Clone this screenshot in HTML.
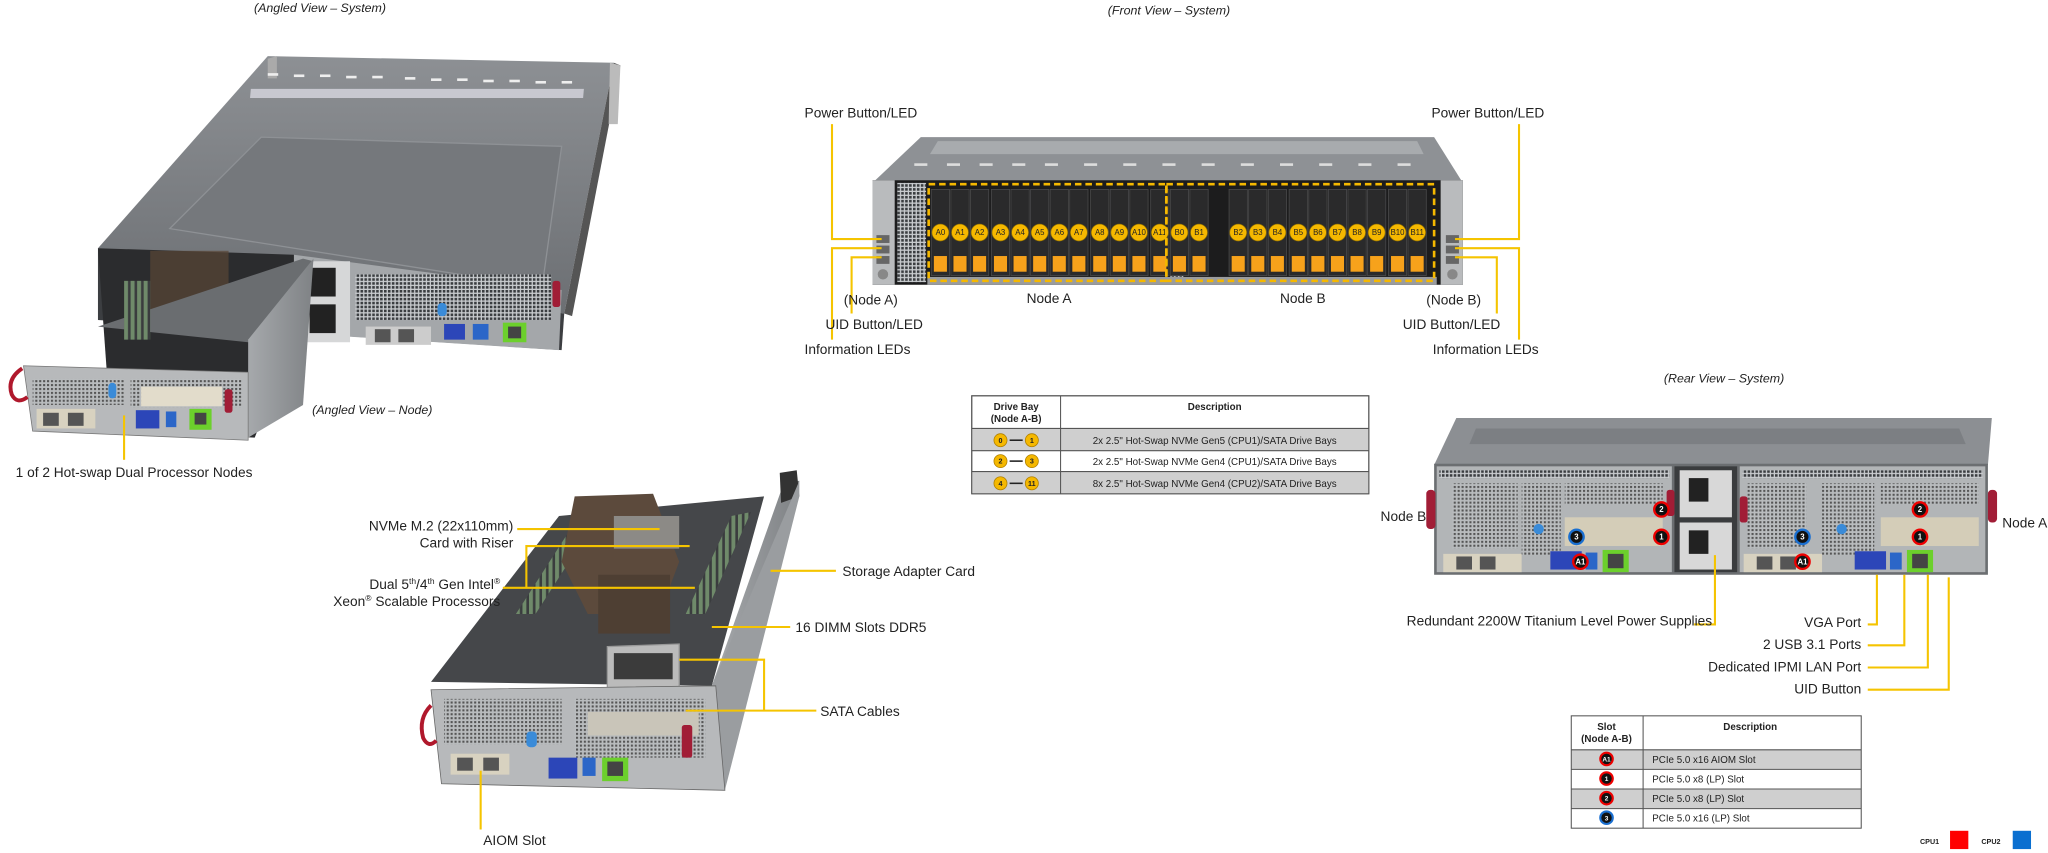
<!DOCTYPE html>
<html><head><meta charset="utf-8"><style>
html,body{margin:0;padding:0;background:#fff;}
svg{display:block;}
text{font-family:"Liberation Sans",Arial,sans-serif;fill:#222;}
.t{font-size:10.5px;}
.i{font-size:9.5px;font-style:italic;}
.y{stroke:#f5c400;stroke-width:1.6;fill:none;}
.tb{font-size:7.5px;}
.tbb{font-size:7.5px;font-weight:bold;}
</style></head><body>
<svg width="2048" height="853" viewBox="0 0 1568 653" preserveAspectRatio="none" xmlns="http://www.w3.org/2000/svg">
<defs>
<pattern id="grill" width="3" height="3" patternUnits="userSpaceOnUse"><rect width="3" height="3" fill="#c9cccf"/><rect width="2" height="2" fill="#3a3d40"/></pattern>
<pattern id="grillL" width="3" height="3" patternUnits="userSpaceOnUse"><rect width="3" height="3" fill="#b9bcbe"/><rect width="1.6" height="1.6" fill="#555"/></pattern>
<pattern id="dimm" width="5" height="4" patternUnits="userSpaceOnUse"><rect width="5" height="4" fill="#3a3c3e"/><rect width="3" height="4" fill="#6f8a6a"/></pattern>
<linearGradient id="top" x1="0" y1="0" x2="0" y2="1"><stop offset="0" stop-color="#8d9094"/><stop offset="1" stop-color="#6c6f73"/></linearGradient>
<linearGradient id="side" x1="0" y1="0" x2="1" y2="0"><stop offset="0" stop-color="#a6a9ac"/><stop offset="1" stop-color="#7f8285"/></linearGradient>
</defs>
<rect width="1568" height="653" fill="#fff"/>

<!-- ============ ANGLED VIEW SYSTEM ============ -->
<text class="i" x="245" y="9" text-anchor="middle">(Angled View – System)</text>
<polygon points="205,43 470,48 432,240 75,190" fill="url(#top)"/>
<polygon points="470,48 475,50 438,242 432,240" fill="#555"/>
<polygon points="205,45 212,43 212,60 205,60" fill="#aaa"/>
<polygon points="467,48 475,50 473,95 466,95" fill="#bbb"/>
<polygon points="200,105 430,112 415,220 130,175" fill="#75787c" stroke="#8e9195" stroke-width="1"/>
<rect x="198" y="68" width="255" height="7" fill="#c8c8d0" transform="skewX(-5)"/>
<g fill="#eee"><rect x="205" y="56" width="8" height="2"/><rect x="225" y="57" width="8" height="2"/><rect x="245" y="57" width="8" height="2"/><rect x="265" y="58" width="8" height="2"/><rect x="285" y="58" width="8" height="2"/><rect x="310" y="59" width="8" height="2"/><rect x="330" y="60" width="8" height="2"/><rect x="350" y="60" width="8" height="2"/><rect x="370" y="61" width="8" height="2"/><rect x="390" y="61" width="8" height="2"/><rect x="410" y="62" width="8" height="2"/><rect x="430" y="62" width="8" height="2"/></g>
<polygon points="75,190 432,240 430,268 75,245" fill="#3c3e41"/>
<polygon points="225,195 430,222 428,268 225,255" fill="#a4a7aa"/>
<rect x="230" y="200" width="38" height="62" fill="#d6d7d8"/>
<rect x="237" y="205" width="20" height="22" fill="#222"/><rect x="237" y="233" width="20" height="22" fill="#222"/>
<rect x="272" y="210" width="150" height="35" fill="url(#grill)"/>
<rect x="280" y="250" width="50" height="14" fill="#ccc"/><rect x="287" y="252" width="12" height="10" fill="#555"/><rect x="305" y="252" width="12" height="10" fill="#555"/>
<rect x="340" y="248" width="16" height="12" fill="#2c46b8"/><rect x="362" y="248" width="12" height="12" fill="#2b66c8"/>
<rect x="385" y="247" width="18" height="15" fill="#6cd02c"/><rect x="389" y="250" width="10" height="9" fill="#444"/>
<rect x="423" y="215" width="6" height="20" rx="2" fill="#a11d36"/>
<rect x="335" y="232" width="7" height="10" rx="3" fill="#3a8bd8"/>
<polygon points="75,190 225,195 225,260 195,335 85,330" fill="#2b2c2e"/>
<rect x="115" y="192" width="60" height="50" fill="#5a4636" opacity=".7"/>
<polygon points="75,250 190,262 240,200 232,198" fill="#6a6d70"/>
<rect x="95" y="215" width="20" height="45" fill="url(#dimm)"/>
<polygon points="190,260 240,198 232,310 190,335" fill="url(#side)"/>
<polygon points="18,280 190,285 190,337 25,330" fill="#b7b9bb" stroke="#777" stroke-width=".6"/>
<rect x="25" y="290" width="70" height="20" fill="url(#grillL)"/>
<rect x="100" y="290" width="85" height="22" fill="url(#grillL)"/>
<rect x="108" y="296" width="62" height="15" fill="#e2dccb"/>
<rect x="28" y="313" width="45" height="15" fill="#d8d2c0"/>
<rect x="33" y="316" width="12" height="10" fill="#555"/><rect x="52" y="316" width="12" height="10" fill="#555"/>
<rect x="104" y="314" width="18" height="14" fill="#2c46b8"/><rect x="127" y="315" width="8" height="12" fill="#2b66c8"/>
<rect x="145" y="313" width="17" height="16" fill="#6cd02c"/><rect x="149" y="316" width="9" height="9" fill="#444"/>
<rect x="83" y="293" width="6" height="12" rx="3" fill="#3a8bd8"/>
<path d="M17,282 q-12,8 -8,20 q4,8 12,2" stroke="#b0182c" stroke-width="3" fill="none"/>
<rect x="172" y="298" width="6" height="18" rx="2" fill="#a11d36"/>
<text class="i" x="285" y="317" text-anchor="middle">(Angled View – Node)</text>
<line class="y" x1="95" y1="318" x2="95" y2="352"/>
<text class="t" x="12" y="365">1 of 2 Hot-swap  Dual Processor Nodes</text>

<!-- ============ ANGLED VIEW NODE ============ -->
<polygon points="330,522 428,395 585,380 545,525" fill="#45474a"/>
<polygon points="395,470 440,400 455,400 410,470" fill="url(#dimm)"/>
<polygon points="525,470 560,395 575,392 540,470" fill="url(#dimm)"/>
<polygon points="440,380 500,378 520,430 505,470 450,470 430,430" fill="#5c4a3c"/>
<rect x="470" y="395" width="50" height="25" fill="#8c8a86"/>
<rect x="458" y="440" width="55" height="45" fill="#4e3f33"/>
<polygon points="545,525 600,370 612,368 555,600" fill="url(#side)"/>
<polygon points="597,362 610,360 612,380 598,385" fill="#333"/>
<polygon points="545,525 612,368 612,380 555,605" fill="#9a9da0"/>
<polygon points="465,495 520,493 520,530 465,532" fill="#bbb" stroke="#999"/>
<rect x="470" y="500" width="45" height="20" fill="#3b3b3b"/>
<polygon points="330,528 548,525 555,605 338,600" fill="#b7b9bb" stroke="#666" stroke-width=".6"/>
<rect x="340" y="535" width="90" height="35" fill="url(#grillL)"/>
<rect x="440" y="535" width="100" height="45" fill="url(#grillL)"/>
<rect x="450" y="545" width="85" height="18" fill="#c9c5b9"/>
<rect x="345" y="577" width="45" height="16" fill="#d8d2c0"/>
<rect x="350" y="580" width="12" height="10" fill="#555"/><rect x="370" y="580" width="12" height="10" fill="#555"/>
<rect x="420" y="580" width="22" height="16" fill="#2c46b8"/><rect x="446" y="580" width="10" height="14" fill="#2b66c8"/>
<rect x="461" y="580" width="20" height="18" fill="#6cd02c"/><rect x="465" y="583" width="12" height="11" fill="#444"/>
<rect x="403" y="560" width="8" height="12" rx="3" fill="#3a8bd8"/>
<path d="M330,540 q-10,10 -6,25 q4,8 10,2" stroke="#b0182c" stroke-width="3" fill="none"/>
<rect x="522" y="555" width="8" height="25" rx="2" fill="#a11d36"/>
<text class="t" x="393" y="406" text-anchor="end">NVMe M.2 (22x110mm)</text>
<text class="t" x="393" y="419" text-anchor="end">Card with Riser</text>
<line class="y" x1="396" y1="405" x2="505" y2="405"/>
<text class="t" x="383" y="451" text-anchor="end">Dual 5<tspan font-size="6.5" dy="-4">th</tspan><tspan dy="4">/4</tspan><tspan font-size="6.5" dy="-4">th</tspan><tspan dy="4"> Gen Intel</tspan><tspan font-size="6.5" dy="-4">®</tspan></text>
<text class="t" x="383" y="464" text-anchor="end">Xeon<tspan font-size="6.5" dy="-4">®</tspan><tspan dy="4"> Scalable Processors</tspan></text>
<polyline class="y" points="528,418 403,418 403,450"/>
<line class="y" x1="385" y1="450" x2="532" y2="450"/>
<line class="y" x1="590" y1="437" x2="640" y2="437"/>
<text class="t" x="645" y="441">Storage Adapter Card</text>
<line class="y" x1="545" y1="480" x2="605" y2="480"/>
<text class="t" x="609" y="484">16 DIMM Slots DDR5</text>
<polyline class="y" points="520,505 585,505 585,544"/>
<line class="y" x1="525" y1="544" x2="625" y2="544"/>
<text class="t" x="628" y="548">SATA Cables</text>
<line class="y" x1="368" y1="590" x2="368" y2="635"/>
<text class="t" x="370" y="647">AIOM Slot</text>

<!-- ============ FRONT VIEW ============ -->
<text class="i" x="895" y="11" text-anchor="middle">(Front View – System)</text>
<polygon points="705,105 1098,105 1120,140 668,140" fill="#8e9195"/>
<polygon points="718,108 1085,108 1090,118 712,118" fill="#a8abae"/>
<g fill="#ddd"><rect x="700" y="125" width="10" height="2"/><rect x="725" y="125" width="10" height="2"/><rect x="750" y="125" width="10" height="2"/><rect x="775" y="125" width="10" height="2"/><rect x="800" y="125" width="10" height="2"/><rect x="830" y="125" width="10" height="2"/><rect x="860" y="125" width="10" height="2"/><rect x="890" y="125" width="10" height="2"/><rect x="920" y="125" width="10" height="2"/><rect x="950" y="125" width="10" height="2"/><rect x="980" y="125" width="10" height="2"/><rect x="1010" y="125" width="10" height="2"/><rect x="1040" y="125" width="10" height="2"/><rect x="1070" y="125" width="10" height="2"/></g>
<rect x="668" y="138" width="452" height="80" fill="#1c1c1d"/>
<rect x="668" y="138" width="17" height="80" fill="#b9bbbd"/>
<rect x="1103" y="138" width="17" height="80" fill="#b9bbbd"/>
<rect x="687" y="140" width="22" height="76" fill="url(#grill)"/>
<rect x="896" y="150" width="10" height="65" fill="url(#grill)"/>
<rect x="710" y="212" width="390" height="6" fill="#9a9c9e"/>
<g fill="#2a2a2b" stroke="#4a4a4b" stroke-width=".6">
<rect x="713" y="145" width="14" height="66"/><rect x="728" y="145" width="14" height="66"/><rect x="743" y="145" width="14" height="66"/><rect x="759" y="145" width="14" height="66"/><rect x="774" y="145" width="14" height="66"/><rect x="789" y="145" width="14" height="66"/><rect x="804" y="145" width="14" height="66"/><rect x="819" y="145" width="14" height="66"/><rect x="835" y="145" width="14" height="66"/><rect x="850" y="145" width="14" height="66"/><rect x="865" y="145" width="14" height="66"/><rect x="881" y="145" width="14" height="66"/>
<rect x="896" y="145" width="14" height="66"/><rect x="911" y="145" width="14" height="66"/>
<rect x="941" y="145" width="14" height="66"/><rect x="956" y="145" width="14" height="66"/><rect x="971" y="145" width="14" height="66"/><rect x="987" y="145" width="14" height="66"/><rect x="1002" y="145" width="14" height="66"/><rect x="1017" y="145" width="14" height="66"/><rect x="1032" y="145" width="14" height="66"/><rect x="1047" y="145" width="14" height="66"/><rect x="1063" y="145" width="14" height="66"/><rect x="1078" y="145" width="14" height="66"/>
</g>
<g fill="#f7a21b">
<rect x="715" y="196" width="10" height="12"/><rect x="730" y="196" width="10" height="12"/><rect x="745" y="196" width="10" height="12"/><rect x="761" y="196" width="10" height="12"/><rect x="776" y="196" width="10" height="12"/><rect x="791" y="196" width="10" height="12"/><rect x="806" y="196" width="10" height="12"/><rect x="821" y="196" width="10" height="12"/><rect x="837" y="196" width="10" height="12"/><rect x="852" y="196" width="10" height="12"/><rect x="867" y="196" width="10" height="12"/><rect x="883" y="196" width="10" height="12"/>
<rect x="898" y="196" width="10" height="12"/><rect x="913" y="196" width="10" height="12"/>
<rect x="943" y="196" width="10" height="12"/><rect x="958" y="196" width="10" height="12"/><rect x="973" y="196" width="10" height="12"/><rect x="989" y="196" width="10" height="12"/><rect x="1004" y="196" width="10" height="12"/><rect x="1019" y="196" width="10" height="12"/><rect x="1034" y="196" width="10" height="12"/><rect x="1049" y="196" width="10" height="12"/><rect x="1065" y="196" width="10" height="12"/><rect x="1080" y="196" width="10" height="12"/>
</g>
<g fill="#f5b800" stroke="#8a6a00" stroke-width=".5">
<circle cx="720" cy="178" r="6.5"/><circle cx="735" cy="178" r="6.5"/><circle cx="750" cy="178" r="6.5"/><circle cx="766" cy="178" r="6.5"/><circle cx="781" cy="178" r="6.5"/><circle cx="796" cy="178" r="6.5"/><circle cx="811" cy="178" r="6.5"/><circle cx="826" cy="178" r="6.5"/><circle cx="842" cy="178" r="6.5"/><circle cx="857" cy="178" r="6.5"/><circle cx="872" cy="178" r="6.5"/><circle cx="888" cy="178" r="6.5"/>
<circle cx="903" cy="178" r="6.5"/><circle cx="918" cy="178" r="6.5"/>
<circle cx="948" cy="178" r="6.5"/><circle cx="963" cy="178" r="6.5"/><circle cx="978" cy="178" r="6.5"/><circle cx="994" cy="178" r="6.5"/><circle cx="1009" cy="178" r="6.5"/><circle cx="1024" cy="178" r="6.5"/><circle cx="1039" cy="178" r="6.5"/><circle cx="1054" cy="178" r="6.5"/><circle cx="1070" cy="178" r="6.5"/><circle cx="1085" cy="178" r="6.5"/>
</g>
<g font-size="6" text-anchor="middle" font-family="Liberation Sans" fill="#222">
<text x="720" y="180">A0</text><text x="735" y="180">A1</text><text x="750" y="180">A2</text><text x="766" y="180">A3</text><text x="781" y="180">A4</text><text x="796" y="180">A5</text><text x="811" y="180">A6</text><text x="826" y="180">A7</text><text x="842" y="180">A8</text><text x="857" y="180">A9</text><text x="872" y="180">A10</text><text x="888" y="180">A11</text>
<text x="903" y="180">B0</text><text x="918" y="180">B1</text>
<text x="948" y="180">B2</text><text x="963" y="180">B3</text><text x="978" y="180">B4</text><text x="994" y="180">B5</text><text x="1009" y="180">B6</text><text x="1024" y="180">B7</text><text x="1039" y="180">B8</text><text x="1054" y="180">B9</text><text x="1070" y="180">B10</text><text x="1085" y="180">B11</text>
</g>
<g fill="none" stroke="#f5b800" stroke-width="2" stroke-dasharray="5,3">
<rect x="711" y="141" width="182" height="74"/>
<rect x="893" y="141" width="205" height="74"/>
</g>
<g fill="#666"><rect x="671" y="180" width="10" height="6"/><rect x="671" y="188" width="10" height="6"/><rect x="671" y="196" width="10" height="6"/><rect x="1107" y="180" width="10" height="6"/><rect x="1107" y="188" width="10" height="6"/><rect x="1107" y="196" width="10" height="6"/></g>
<circle cx="676" cy="210" r="4" fill="#888"/><circle cx="1112" cy="210" r="4" fill="#888"/>
<text class="t" x="616" y="90">Power Button/LED</text>
<text class="t" x="1096" y="90">Power Button/LED</text>
<polyline class="y" points="637,95 637,183 675,183"/>
<polyline class="y" points="637,260 637,190 675,190"/>
<polyline class="y" points="652,240 652,197 675,197"/>
<polyline class="y" points="1163,95 1163,183 1114,183"/>
<polyline class="y" points="1163,260 1163,190 1114,190"/>
<polyline class="y" points="1146,240 1146,197 1114,197"/>
<text class="t" x="646" y="233">(Node A)</text>
<text class="t" x="786" y="232">Node A</text>
<text class="t" x="980" y="232">Node B</text>
<text class="t" x="1092" y="233">(Node B)</text>
<text class="t" x="632" y="252">UID Button/LED</text>
<text class="t" x="1074" y="252">UID Button/LED</text>
<text class="t" x="616" y="271">Information  LEDs</text>
<text class="t" x="1097" y="271">Information  LEDs</text>

<rect x="744" y="303" width="304" height="75" fill="#fff" stroke="#555" stroke-width=".8"/>
<rect x="744" y="328" width="304" height="17" fill="#cfcfcf"/>
<rect x="744" y="361" width="304" height="17" fill="#cfcfcf"/>
<g stroke="#555" stroke-width=".8"><line x1="744" y1="328" x2="1048" y2="328"/><line x1="744" y1="345" x2="1048" y2="345"/><line x1="744" y1="361" x2="1048" y2="361"/><line x1="812" y1="303" x2="812" y2="378"/><rect x="744" y="303" width="304" height="75" fill="none"/></g>
<text class="tbb" x="778" y="314" text-anchor="middle">Drive Bay</text>
<text class="tbb" x="778" y="323" text-anchor="middle">(Node A-B)</text>
<text class="tbb" x="930" y="314" text-anchor="middle">Description</text>
<g fill="#f5b800" stroke="#b08000" stroke-width=".6"><circle cx="766" cy="337" r="5"/><circle cx="790" cy="337" r="5"/><circle cx="766" cy="353" r="5"/><circle cx="790" cy="353" r="5"/><circle cx="766" cy="370" r="5"/><circle cx="790" cy="370" r="5"/></g>
<g stroke="#222" stroke-width="1.2"><line x1="773" y1="337" x2="783" y2="337"/><line x1="773" y1="353" x2="783" y2="353"/><line x1="773" y1="370" x2="783" y2="370"/></g>
<g font-size="5.5" text-anchor="middle" font-family="Liberation Sans" font-weight="bold"><text x="766" y="339">0</text><text x="790" y="339">1</text><text x="766" y="355">2</text><text x="790" y="355">3</text><text x="766" y="372">4</text><text x="790" y="372">11</text></g>
<text class="tb" x="930" y="340" text-anchor="middle">2x 2.5" Hot-Swap  NVMe  Gen5  (CPU1)/SATA  Drive  Bays</text>
<text class="tb" x="930" y="356" text-anchor="middle">2x 2.5" Hot-Swap  NVMe  Gen4  (CPU1)/SATA  Drive  Bays</text>
<text class="tb" x="930" y="373" text-anchor="middle">8x 2.5" Hot-Swap  NVMe  Gen4  (CPU2)/SATA  Drive  Bays</text>

<!-- ============ REAR VIEW ============ -->
<text class="i" x="1320" y="293" text-anchor="middle">(Rear View – System)</text>
<polygon points="1115,320 1525,320 1522,356 1098,356" fill="#8c8f93"/>
<polygon points="1130,328 1500,328 1505,340 1125,340" fill="#7c7f83"/>
<rect x="1098" y="355" width="424" height="85" fill="#6b6e71"/>
<rect x="1100" y="357" width="180" height="81" fill="#b2b5b7"/>
<rect x="1332" y="357" width="188" height="81" fill="#b2b5b7"/>
<rect x="1282" y="357" width="48" height="81" fill="#3a3c3e"/>
<rect x="1286" y="360" width="40" height="36" fill="#d8d8d8"/><rect x="1286" y="400" width="40" height="36" fill="#d8d8d8"/>
<rect x="1293" y="366" width="15" height="18" fill="#222"/><rect x="1293" y="406" width="15" height="18" fill="#222"/>
<rect x="1102" y="360" width="176" height="6" fill="url(#grill)"/>
<rect x="1334" y="360" width="184" height="6" fill="url(#grill)"/>
<rect x="1112" y="370" width="50" height="50" fill="url(#grillL)"/>
<rect x="1165" y="370" width="30" height="55" fill="url(#grillL)"/>
<rect x="1198" y="370" width="75" height="16" fill="url(#grillL)"/>
<rect x="1198" y="396" width="75" height="22" fill="#d4cdb8"/>
<rect x="1338" y="370" width="45" height="50" fill="url(#grillL)"/>
<rect x="1395" y="370" width="40" height="55" fill="url(#grillL)"/>
<rect x="1440" y="370" width="75" height="16" fill="url(#grillL)"/>
<rect x="1440" y="396" width="75" height="22" fill="#d4cdb8"/>
<rect x="1105" y="424" width="60" height="14" fill="#d8d2c0"/><rect x="1115" y="426" width="12" height="10" fill="#555"/><rect x="1133" y="426" width="12" height="10" fill="#555"/>
<rect x="1335" y="424" width="60" height="14" fill="#d8d2c0"/><rect x="1345" y="426" width="12" height="10" fill="#555"/><rect x="1363" y="426" width="12" height="10" fill="#555"/>
<rect x="1187" y="422" width="24" height="14" fill="#2c46b8"/><rect x="1214" y="423" width="9" height="13" fill="#2b66c8"/>
<rect x="1227" y="421" width="20" height="17" fill="#6cd02c"/><rect x="1231" y="424" width="12" height="11" fill="#444"/>
<rect x="1420" y="422" width="24" height="14" fill="#2c46b8"/><rect x="1447" y="423" width="9" height="13" fill="#2b66c8"/>
<rect x="1460" y="421" width="20" height="17" fill="#6cd02c"/><rect x="1464" y="424" width="12" height="11" fill="#444"/>
<rect x="1092" y="375" width="7" height="30" rx="3" fill="#a11d36"/>
<rect x="1522" y="375" width="7" height="25" rx="3" fill="#a11d36"/>
<rect x="1276" y="375" width="6" height="20" rx="2" fill="#a11d36"/>
<rect x="1332" y="380" width="6" height="20" rx="2" fill="#a11d36"/>
<circle cx="1178" cy="405" r="4" fill="#3a8bd8"/><circle cx="1410" cy="405" r="4" fill="#3a8bd8"/>
<g stroke-width="1.8">
<circle cx="1272" cy="390" r="5.5" fill="#111" stroke="#e00"/><circle cx="1272" cy="411" r="5.5" fill="#111" stroke="#e00"/>
<circle cx="1207" cy="411" r="5.5" fill="#111" stroke="#1a6fd0"/><circle cx="1210" cy="430" r="5.5" fill="#111" stroke="#e00"/>
<circle cx="1470" cy="390" r="5.5" fill="#111" stroke="#e00"/><circle cx="1470" cy="411" r="5.5" fill="#111" stroke="#e00"/>
<circle cx="1380" cy="411" r="5.5" fill="#111" stroke="#1a6fd0"/><circle cx="1380" cy="430" r="5.5" fill="#111" stroke="#e00"/>
</g>
<g font-size="6" text-anchor="middle" font-family="Liberation Sans" font-weight="bold">
<text x="1272" y="392" style="fill:#fff">2</text><text x="1272" y="413" style="fill:#fff">1</text><text x="1207" y="413" style="fill:#fff">3</text><text x="1210" y="432" style="fill:#fff">A1</text>
<text x="1470" y="392" style="fill:#fff">2</text><text x="1470" y="413" style="fill:#fff">1</text><text x="1380" y="413" style="fill:#fff">3</text><text x="1380" y="432" style="fill:#fff">A1</text>
</g>
<text class="t" x="1057" y="399">Node B</text>
<text class="t" x="1533" y="404">Node A</text>
<polyline class="y" points="1297,478 1313,478 1313,425"/>
<polyline class="y" points="1430,478 1437,478 1437,440"/>
<polyline class="y" points="1430,494 1458,494 1458,440"/>
<polyline class="y" points="1430,511 1476,511 1476,440"/>
<polyline class="y" points="1430,528 1492,528 1492,442"/>
<text class="t" x="1077" y="479">Redundant  2200W Titanium  Level Power Supplies</text>
<text class="t" x="1425" y="480" text-anchor="end">VGA Port</text>
<text class="t" x="1425" y="497" text-anchor="end">2 USB 3.1 Ports</text>
<text class="t" x="1425" y="514" text-anchor="end">Dedicated IPMI  LAN Port</text>
<text class="t" x="1425" y="531" text-anchor="end">UID Button</text>

<rect x="1203" y="548" width="222" height="86" fill="#fff"/>
<rect x="1203" y="574" width="222" height="15" fill="#cfcfcf"/>
<rect x="1203" y="604" width="222" height="15" fill="#cfcfcf"/>
<g stroke="#555" stroke-width=".8" fill="none"><rect x="1203" y="548" width="222" height="86"/><line x1="1203" y1="574" x2="1425" y2="574"/><line x1="1203" y1="589" x2="1425" y2="589"/><line x1="1203" y1="604" x2="1425" y2="604"/><line x1="1203" y1="619" x2="1425" y2="619"/><line x1="1258" y1="548" x2="1258" y2="634"/></g>
<text class="tbb" x="1230" y="559" text-anchor="middle">Slot</text>
<text class="tbb" x="1230" y="568" text-anchor="middle">(Node A-B)</text>
<text class="tbb" x="1340" y="559" text-anchor="middle">Description</text>
<g stroke-width="1.6"><circle cx="1230" cy="581" r="4.8" fill="#111" stroke="#e00"/><circle cx="1230" cy="596" r="4.8" fill="#111" stroke="#e00"/><circle cx="1230" cy="611" r="4.8" fill="#111" stroke="#e00"/><circle cx="1230" cy="626" r="4.8" fill="#111" stroke="#1a6fd0"/></g>
<g font-size="5" text-anchor="middle" font-family="Liberation Sans" font-weight="bold"><text x="1230" y="583" style="fill:#fff">A1</text><text x="1230" y="598" style="fill:#fff">1</text><text x="1230" y="613" style="fill:#fff">2</text><text x="1230" y="628" style="fill:#fff">3</text></g>
<text class="tb" x="1265" y="584">PCIe  5.0  x16  AIOM  Slot</text>
<text class="tb" x="1265" y="599">PCIe  5.0  x8  (LP)  Slot</text>
<text class="tb" x="1265" y="614">PCIe  5.0  x8  (LP)  Slot</text>
<text class="tb" x="1265" y="629">PCIe  5.0  x16  (LP)  Slot</text>
<text x="1470" y="646" font-size="5.5" font-weight="bold">CPU1</text>
<rect x="1493" y="636" width="14" height="14" fill="#ff0000"/>
<text x="1517" y="646" font-size="5.5" font-weight="bold">CPU2</text>
<rect x="1541" y="636" width="14" height="14" fill="#0a6fd0"/>
</svg>
</body></html>
